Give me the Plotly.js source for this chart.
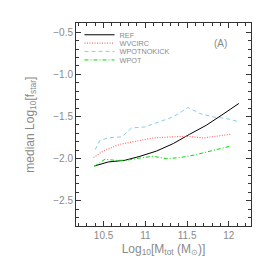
<!DOCTYPE html>
<html><head><meta charset="utf-8">
<script src="https://cdn.plot.ly/plotly-3.0.1.min.js"></script>
<style>html,body{margin:0;padding:0;background:#fff}#c{width:274px;height:274px}</style>
</head><body><div id="c"></div>
<script>
const refX = [10.39, 10.555, 10.755, 10.935, 11.135, 11.335, 11.53, 11.73, 11.93, 12.12];
const refY = [-2.088, -2.040, -2.020, -1.973, -1.910, -1.821, -1.711, -1.604, -1.473, -1.345];
const wvcX = [10.38, 10.495, 10.695, 10.895, 11.093, 11.293, 11.493, 11.691, 11.852, 12.02];
const wvcY = [-1.988, -1.91, -1.83, -1.794, -1.755, -1.743, -1.735, -1.755, -1.735, -1.711];
const wpnX = [10.40, 10.456, 10.575, 10.715, 10.835, 10.994, 11.333, 11.512, 11.652, 11.811, 11.97, 12.13];
const wpnY = [-1.893, -1.782, -1.75, -1.743, -1.636, -1.624, -1.505, -1.393, -1.464, -1.505, -1.524, -1.564];
const wpX = [10.39, 10.516, 10.635, 10.775, 10.934, 11.093, 11.254, 11.413, 11.572, 11.772, 12.011];
const wpY = [-2.092, -2.008, -2.02, -2.02, -1.993, -1.973, -2.0, -1.988, -1.961, -1.91, -1.854];
const names = ['REF', 'WVCIRC', 'WPOTNOKICK', 'WPOT'];
const xTitle = 'Log<sub>10</sub>[M<sub>tot</sub> (M<sub>⊙</sub>)]';
const yTitle = 'median Log<sub>10</sub>[f<sub>star</sub>]';

const txt = '#8a8a8a';
const ff = 'Liberation Sans, Arial, sans-serif';
const traces = [
  {x: refX, y: refY, name: names[0], mode: 'lines', line: {color: '#000000', width: 1}, legend: 'legend'},
  {x: wvcX, y: wvcY, name: names[1], mode: 'lines', line: {color: '#ff6f6f', width: 1.2, dash: '1px,1.5px'}, legend: 'legend2'},
  {x: wpnX, y: wpnY, name: names[2], mode: 'lines', line: {color: '#87cdee', width: 1, dash: '4px,3px'}, legend: 'legend3'},
  {x: wpX, y: wpY, name: names[3], mode: 'lines', line: {color: '#00dd00', width: 1, dash: '4px,2px,1px,2px'}, legend: 'legend4'}
];
function lg(y) {
  return {x: 0.02, y: y, xanchor: 'left', yanchor: 'middle', bgcolor: 'rgba(0,0,0,0)',
    font: {family: ff, size: 7.3, color: txt}, tracegroupgap: 0, itemwidth: 30};
}
const layout = {
  width: 274, height: 274,
  margin: {l: 76, r: 23, t: 23, b: 48},
  paper_bgcolor: '#fff', plot_bgcolor: '#fff',
  showlegend: true,
  legend: lg(0.942), legend2: lg(0.901), legend3: lg(0.860), legend4: lg(0.818),
  xaxis: {
    range: [10.17, 12.265], tick0: 10.5, dtick: 0.5,
    showgrid: false, zeroline: false, showline: true, mirror: 'allticks',
    linecolor: '#333', linewidth: 1, ticks: 'inside', ticklen: 5, tickcolor: '#333',
    minor: {dtick: 0.1, ticks: 'inside', ticklen: 3, tickcolor: '#333'},
    tickfont: {family: ff, size: 10, color: txt},
    title: {text: xTitle, font: {family: ff, size: 12, color: txt}, standoff: 4}
  },
  yaxis: {
    range: [-2.80, -0.39], tick0: -2.5, dtick: 0.5, tickformat: '.1f',
    showgrid: false, zeroline: false, showline: true, mirror: 'allticks',
    linecolor: '#333', linewidth: 1, ticks: 'inside', ticklen: 5, tickcolor: '#333',
    minor: {dtick: 0.1, ticks: 'inside', ticklen: 3, tickcolor: '#333'},
    tickfont: {family: ff, size: 10, color: txt}
  },
  annotations: [
    {text: '(A)', xref: 'paper', yref: 'paper', x: 0.875, y: 0.935, showarrow: false,
      font: {family: ff, size: 10, color: txt}},
    {text: yTitle, xref: 'paper', yref: 'paper', x: -0.262, y: 0.5, xanchor: 'center', yanchor: 'middle',
      textangle: -90, showarrow: false, font: {family: ff, size: 12, color: txt}}
  ]
};
Plotly.newPlot('c', traces, layout, {staticPlot: true});
</script></body></html>
